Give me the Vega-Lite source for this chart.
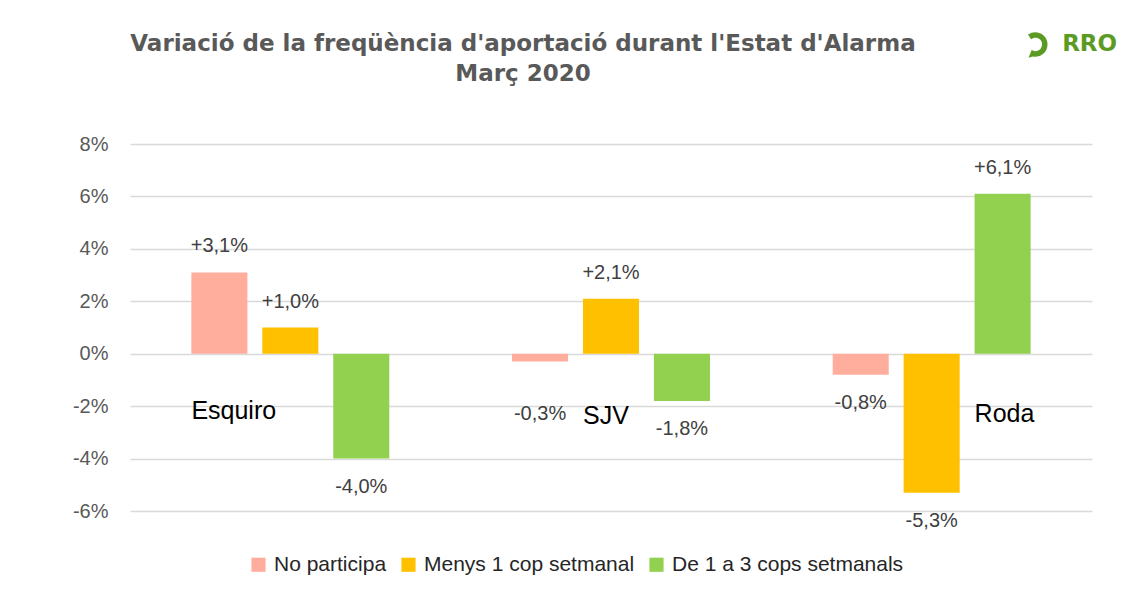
{
  "$schema": "https://vega.github.io/schema/vega-lite/v6.json",
  "width": 962,
  "height": 367,
  "autosize": "none",
  "padding": {"left": 130, "top": 144, "right": 39, "bottom": 97},
  "background": "white",
  "config": {"view": {"stroke": null}, "font": "Liberation Sans"},
  "title": {
    "text": ["Variació de la freqüència d'aportació durant l'Estat d'Alarma", "Març 2020"],
    "font": "DejaVu Sans",
    "fontSize": 23,
    "fontWeight": "bold",
    "color": "#595959",
    "anchor": "middle",
    "frame": "group",
    "dx": -88,
    "offset": -54,
    "lineHeight": 30
  },
  "data": {
    "values": [
      {"group": "Esquiro", "series": "No participa", "v": 3.1},
      {"group": "Esquiro", "series": "Menys 1 cop setmanal", "v": 1.0},
      {"group": "Esquiro", "series": "De 1 a 3 cops setmanals", "v": -4.0},
      {"group": "SJV", "series": "No participa", "v": -0.3},
      {"group": "SJV", "series": "Menys 1 cop setmanal", "v": 2.1},
      {"group": "SJV", "series": "De 1 a 3 cops setmanals", "v": -1.8},
      {"group": "Roda", "series": "No participa", "v": -0.8},
      {"group": "Roda", "series": "Menys 1 cop setmanal", "v": -5.3},
      {"group": "Roda", "series": "De 1 a 3 cops setmanals", "v": 6.1}
    ]
  },
  "encoding": {
    "x": {"field": "group", "type": "nominal", "scale": {"domain": ["Esquiro", "SJV", "Roda"], "paddingInner": 0, "paddingOuter": 0}, "axis": null},
    "xOffset": {"field": "series", "type": "nominal", "scale": {"domain": ["No participa", "Menys 1 cop setmanal", "De 1 a 3 cops setmanals"], "paddingInner": 0.21, "paddingOuter": 0.865}},
    "y": {"field": "v", "type": "quantitative", "scale": {"domain": [-6, 8], "nice": false, "zero": false},
      "axis": {"values": [-6, -4, -2, 0, 2, 4, 6, 8], "labelExpr": "datum.value + '%'", "title": null, "domain": false, "ticks": false, "gridColor": "#d9d9d9", "gridWidth": 1.3, "labelFontSize": 20, "labelColor": "#595959", "labelPadding": 22}}
  },
  "layer": [
    {
      "mark": {"type": "bar"},
      "encoding": {
        "color": {"field": "series", "type": "nominal",
          "scale": {"domain": ["No participa", "Menys 1 cop setmanal", "De 1 a 3 cops setmanals"], "range": ["#FFAE9E", "#FFC000", "#92D050"]},
          "legend": {"title": null, "orient": "none", "direction": "horizontal", "legendX": 118, "legendY": 410, "symbolType": "square", "symbolSize": 200, "symbolStrokeWidth": 0, "labelFontSize": 21, "labelColor": "#262626", "labelLimit": 400, "columnPadding": 11, "labelOffset": 5}}
      }
    },
    {
      "transform": [
        {"filter": "datum.v > 0"},
        {"calculate": "'+' + replace(format(datum.v, '.1f'), '.', ',') + '%'", "as": "lbl"}
      ],
      "mark": {"type": "text", "dy": -26, "fontSize": 20, "color": "#404040", "baseline": "middle"},
      "encoding": {"text": {"field": "lbl"}}
    },
    {
      "transform": [
        {"filter": "datum.v < 0 && datum.v != -0.3"},
        {"calculate": "'-' + replace(format(abs(datum.v), '.1f'), '.', ',') + '%'", "as": "lbl"}
      ],
      "mark": {"type": "text", "dy": 28, "fontSize": 20, "color": "#404040", "baseline": "middle"},
      "encoding": {"text": {"field": "lbl"}}
    },
    {
      "transform": [
        {"filter": "datum.v == -0.3"},
        {"calculate": "'-' + replace(format(abs(datum.v), '.1f'), '.', ',') + '%'", "as": "lbl"}
      ],
      "mark": {"type": "text", "dy": 52, "fontSize": 20, "color": "#404040", "baseline": "middle"},
      "encoding": {"text": {"field": "lbl"}}
    },
    {
      "data": {
        "values": [
          {"group": "Esquiro", "series": "No participa", "v": -2.2},
          {"group": "SJV", "series": "Menys 1 cop setmanal", "v": -2.37},
          {"group": "Roda", "series": "De 1 a 3 cops setmanals", "v": -2.3}
        ]
      },
      "mark": {"type": "text", "align": "left", "dx": -28, "fontSize": 25, "color": "#000000", "baseline": "middle"},
      "encoding": {"text": {"field": "group"}}
    },
    {
      "data": {"values": [{"group": "Roda", "series": "De 1 a 3 cops setmanals", "v": 11.8, "logo": "RRO"}]},
      "mark": {"type": "text", "align": "center", "dx": 87, "fontSize": 23, "font": "DejaVu Sans", "fontWeight": "bold", "color": "#5B9B23", "baseline": "middle"},
      "encoding": {"text": {"field": "logo"}}
    },
    {
      "data": {"values": [{"group": "Roda", "series": "De 1 a 3 cops setmanals", "v": 11.8}]},
      "mark": {"type": "point", "filled": true, "color": "#5B9B23", "opacity": 1, "size": 600,
        "shape": "M 2.07 -0.8 A 1 1 0 1 1 2.47 0.98 L 2.12 1.1 L 2.37 0.46 A 0.55 0.55 0 1 0 2.32 -0.42 Z"},
      "encoding": {}
    }
  ]
}
